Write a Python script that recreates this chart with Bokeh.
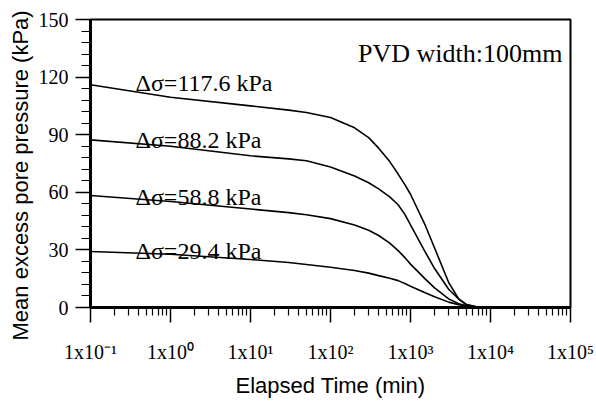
from bokeh.plotting import figure
from bokeh.models import FixedTicker, Range1d, Label, Title
from bokeh.core.properties import value
from bokeh.embed import file_html
from bokeh.resources import INLINE

# Elapsed time (min)
time_min = [0.1, 1, 10, 30, 50, 100, 200, 300, 400, 550, 700, 850, 1000, 1500, 2000, 3000, 4000, 5000, 7000, 10000]
# Mean excess pore pressure (kPa) for each load increment
u_117_6 = [116.0, 109.5, 105.0, 102.8, 101.6, 99.0, 93.6, 88.5, 83.0, 76.0, 69.5, 64.0, 59.0, 43.6, 31.0, 13.0, 4.5, 1.6, 0.2, 0.0]
u_88_2 = [87.3, 84.0, 79.0, 77.4, 76.4, 73.2, 68.5, 65.0, 61.8, 57.6, 53.5, 48.5, 43.0, 29.5, 20.3, 9.5, 4.4, 1.4, 0.1, 0.0]
u_58_8 = [58.3, 55.2, 51.3, 49.4, 48.3, 46.3, 43.0, 40.2, 37.5, 33.5, 29.6, 26.0, 22.6, 15.2, 10.2, 4.5, 2.0, 0.9, 0.1, 0.0]
u_29_4 = [29.2, 27.7, 25.0, 23.4, 22.4, 21.0, 19.3, 17.9, 16.6, 15.2, 14.0, 12.5, 11.1, 7.8, 5.6, 2.8, 1.4, 0.7, 0.1, 0.0]
series = [u_117_6, u_88_2, u_58_8, u_29_4]

label_texts = ["\u0394\u03c3=117.6 kPa", "\u0394\u03c3=88.2 kPa", "\u0394\u03c3=58.8 kPa", "\u0394\u03c3=29.4 kPa"]
label_y = [116.7, 87.5, 57.8, 29.2]

y_major = [0, 30, 60, 90, 120, 150]
x_major = [0.1, 1, 10, 100, 1000, 10000, 100000]
x_tick_labels = ["1x10\u207b\u00b9", "1x10\u2070", "1x10\u00b9", "1x10\u00b2", "1x10\u00b3", "1x10\u2074", "1x10\u2075"]

p = figure(width=596, height=401, x_axis_type="log",
           x_range=Range1d(0.1, 100000), y_range=Range1d(0, 150),
           output_backend="svg", toolbar_location=None,
           min_border_left=90, min_border_right=26, min_border_top=19, min_border_bottom=94)

p.xgrid.visible = False
p.ygrid.visible = False
p.outline_line_color = "black"
p.outline_line_width = 2
p.outline_line_alpha = 1.0

for s in series:
    p.line(time_min, s, line_color="black", line_width=1.6)

p.text(x=[0.365] * 4, y=label_y, text=label_texts,
       text_font=value("Liberation Serif"), text_font_size="24px",
       text_color="black", text_baseline="alphabetic", text_align="left")

p.add_layout(Label(x=79400, y=132.3, text="PVD width:100mm",
                   text_font="Liberation Serif", text_font_size="26px",
                   text_color="black", text_align="right", text_baseline="alphabetic"))

# Y axis
yax = p.yaxis[0]
yax.ticker = FixedTicker(ticks=y_major, minor_ticks=[m for m in range(0, 151, 6) if m % 30])
yax.major_label_text_font = "Liberation Serif"
yax.major_label_text_font_size = "20px"
yax.major_label_text_color = "black"
yax.major_label_standoff = 7
yax.axis_line_width = 3
yax.axis_line_color = "black"
yax.major_tick_in = 0
yax.major_tick_out = 15
yax.minor_tick_in = 0
yax.minor_tick_out = 9
yax.major_tick_line_width = 1.5
yax.minor_tick_line_width = 1.2
yax.major_tick_line_color = "black"
yax.minor_tick_line_color = "black"

# Y axis title (as a side title so it can extend below the frame like the original)
p.add_layout(Title(text="Mean excess pore pressure (kPa)", align="left", offset=-33,
                   text_font="Liberation Sans", text_font_size="22px",
                   text_font_style="normal", text_color="black", standoff=6), "left")

# X axis
xax = p.xaxis[0]
xax.ticker = FixedTicker(ticks=x_major,
                         minor_ticks=[k * 10.0 ** n for n in range(-1, 5) for k in range(2, 10)])
xax.major_label_overrides = {v: t for v, t in zip(x_major, x_tick_labels)}
xax.axis_label = "Elapsed Time (min)"
xax.axis_label_text_font = "Liberation Sans"
xax.axis_label_text_font_size = "22px"
xax.axis_label_text_font_style = "normal"
xax.axis_label_text_color = "black"
xax.axis_label_standoff = 7
xax.major_label_text_font = "Liberation Serif"
xax.major_label_text_font_size = "20px"
xax.major_label_text_color = "black"
xax.major_label_standoff = 18
xax.axis_line_width = 3
xax.axis_line_color = "black"
xax.major_tick_in = 0
xax.major_tick_out = 15
xax.minor_tick_in = 0
xax.minor_tick_out = 8
xax.major_tick_line_width = 1.5
xax.minor_tick_line_width = 1.2
xax.major_tick_line_color = "black"
xax.minor_tick_line_color = "black"

open("out.html", "w").write(file_html(p, INLINE))
